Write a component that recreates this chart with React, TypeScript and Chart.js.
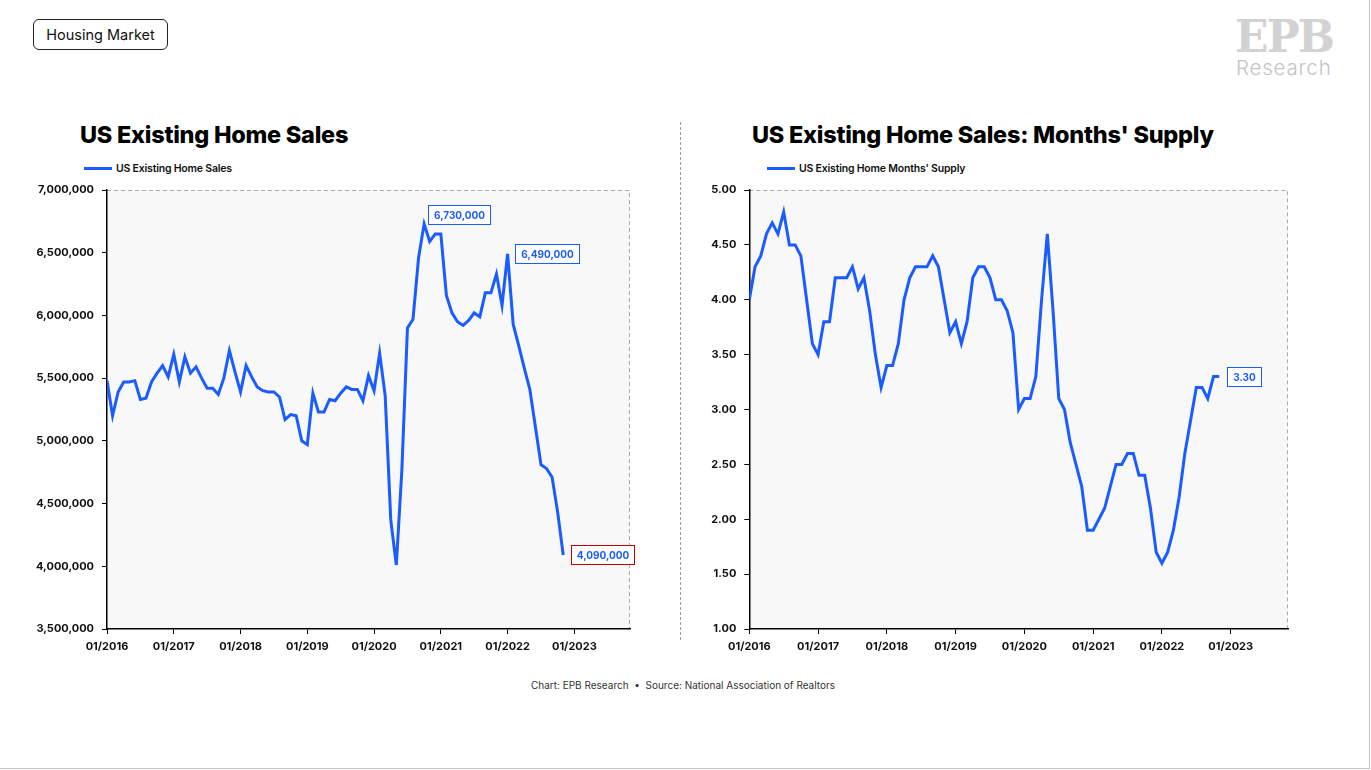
import React, { useEffect, useRef } from 'react';
import { Chart, registerables } from 'chart.js';

Chart.register(...registerables);

// ---------------- DATA ----------------
const xTickLabels = ['01/2016', '01/2017', '01/2018', '01/2019', '01/2020', '01/2021', '01/2022', '01/2023'];

// US Existing Home Sales, monthly Jan 2016 .. Nov 2022 (SAAR)
const salesValues = [
  5480000, 5200000, 5390000, 5470000, 5470000, 5480000, 5330000, 5340000, 5470000, 5540000, 5600000, 5510000,
  5690000, 5470000, 5670000, 5540000, 5590000, 5500000, 5420000, 5420000, 5370000, 5500000, 5720000, 5550000,
  5390000, 5600000, 5510000, 5430000, 5400000, 5390000, 5390000, 5350000, 5170000, 5210000, 5200000, 5000000,
  4970000, 5380000, 5230000, 5230000, 5330000, 5320000, 5380000, 5430000, 5410000, 5410000, 5320000, 5520000,
  5400000, 5700000, 5360000, 4370000, 4010000, 4770000, 5900000, 5970000, 6460000, 6730000, 6590000, 6650000,
  6650000, 6160000, 6020000, 5950000, 5920000, 5960000, 6020000, 5990000, 6180000, 6180000, 6330000, 6080000,
  6490000, 5930000, 5760000, 5580000, 5410000, 5110000, 4810000, 4780000, 4710000, 4430000, 4090000,
];

// US Existing Home Months' Supply, monthly Jan 2016 .. Nov 2022
const supplyValues = [
  4.0, 4.3, 4.4, 4.6, 4.7, 4.6, 4.8, 4.5, 4.5, 4.4, 4.0, 3.6,
  3.5, 3.8, 3.8, 4.2, 4.2, 4.2, 4.3, 4.1, 4.2, 3.9, 3.5, 3.2,
  3.4, 3.4, 3.6, 4.0, 4.2, 4.3, 4.3, 4.3, 4.4, 4.3, 4.0, 3.7,
  3.8, 3.6, 3.8, 4.2, 4.3, 4.3, 4.2, 4.0, 4.0, 3.9, 3.7, 3.0,
  3.1, 3.1, 3.3, 4.0, 4.6, 3.9, 3.1, 3.0, 2.7, 2.5, 2.3, 1.9,
  1.9, 2.0, 2.1, 2.3, 2.5, 2.5, 2.6, 2.6, 2.4, 2.4, 2.1, 1.7,
  1.6, 1.7, 1.9, 2.2, 2.6, 2.9, 3.2, 3.2, 3.1, 3.3, 3.3,
];

const salesCalloutMonths = [57, 72, 82];
const supplyCalloutMonths = [82];

// ---------------- STYLE ----------------
const BLUE = '#1a5cff';
const RED = '#c00000';
const FONT = 'Inter, "Open Sans", sans-serif';
const X_MAX_MONTHS = 94;

type Callout = { month: number; mode: 'above' | 'right'; color: string };

const framePlugin = {
  id: 'frame',
  beforeDraw(chart: any) {
    const { ctx, chartArea: a } = chart;
    ctx.save();
    ctx.fillStyle = '#f8f8f8';
    ctx.fillRect(a.left, a.top, a.right - a.left, a.bottom - a.top);
    ctx.strokeStyle = '#ababab';
    ctx.lineWidth = 1;
    ctx.setLineDash([4, 3]);
    ctx.beginPath();
    ctx.moveTo(a.left, a.top + 0.5);
    ctx.lineTo(a.right - 0.5, a.top + 0.5);
    ctx.lineTo(a.right - 0.5, a.bottom);
    ctx.stroke();
    ctx.restore();
  },
};

function makeCalloutPlugin(callouts: Callout[], fmt: (v: number) => string) {
  return {
    id: 'callouts',
    afterDatasetsDraw(chart: any) {
      const { ctx } = chart;
      const xs = chart.scales.x;
      const ys = chart.scales.y;
      const data = chart.data.datasets[0].data;
      ctx.save();
      ctx.font = `bold 10px ${FONT}`;
      for (const c of callouts) {
        const pt = data[c.month];
        const px = xs.getPixelForValue(pt.x);
        const py = ys.getPixelForValue(pt.y);
        const text = fmt(pt.y);
        const tw = ctx.measureText(text).width;
        const w = Math.round(tw + 11);
        const h = 19;
        let left: number, top: number;
        if (c.mode === 'above') {
          left = px + 3.5;
          top = py - h;
        } else {
          left = px + 7.5;
          top = py - h / 2;
        }
        left = Math.round(left) + 0.5;
        top = Math.round(top) + 0.5;
        ctx.fillStyle = '#ffffff';
        ctx.fillRect(left, top, w, h);
        ctx.strokeStyle = c.color;
        ctx.lineWidth = 1;
        ctx.strokeRect(left, top, w, h);
        ctx.fillStyle = BLUE;
        ctx.textAlign = 'center';
        ctx.textBaseline = 'middle';
        ctx.fillText(text, left + w / 2, top + h / 2 + 0.5);
      }
      ctx.restore();
    },
  };
}

type ChartProps = {
  values: number[];
  yMin: number;
  yMax: number;
  yStep: number;
  yFmt: (v: number) => string;
  yWidth: number;
  width: number;
  height: number;
  callouts: Callout[];
  label: string;
};

function LineChart(p: ChartProps) {
  const ref = useRef<HTMLCanvasElement>(null);
  useEffect(() => {
    const data = p.values.map((v, i) => ({ x: i, y: v }));
    const tickFont = { family: FONT, size: 11, weight: 'bold' as const };
    const chart = new Chart(ref.current as HTMLCanvasElement, {
      type: 'line',
      data: {
        datasets: [
          {
            label: p.label,
            data,
            borderColor: BLUE,
            backgroundColor: BLUE,
            borderWidth: 3,
            pointRadius: 0,
            tension: 0,
            fill: false,
          },
        ],
      },
      options: {
        animation: false,
        responsive: false,
        devicePixelRatio: 1,
        layout: { padding: { top: 10, right: 20, left: 0, bottom: 0 } },
        plugins: { legend: { display: false }, tooltip: { enabled: false }, title: { display: false } },
        scales: {
          x: {
            type: 'linear',
            min: 0,
            max: X_MAX_MONTHS,
            afterBuildTicks: (s: any) => {
              s.ticks = xTickLabels.map((_, i) => ({ value: i * 12 }));
            },
            afterFit: (s: any) => {
              s.height = 31;
              s.paddingLeft = 0;
              s.paddingRight = 0;
            },
            ticks: {
              callback: (v: any) => xTickLabels[Math.round(Number(v) / 12)] ?? '',
              font: tickFont,
              color: '#111',
              padding: 6,
              maxRotation: 0,
              autoSkip: false,
            },
            grid: { drawOnChartArea: false, drawTicks: true, tickLength: 5, color: '#000', lineWidth: 1 },
            border: { display: true, color: '#000', width: 1.5 },
          },
          y: {
            type: 'linear',
            min: p.yMin,
            max: p.yMax,
            afterFit: (s: any) => {
              s.width = p.yWidth;
              s.paddingTop = 0;
              s.paddingBottom = 0;
            },
            ticks: {
              stepSize: p.yStep,
              callback: (v: any) => p.yFmt(Number(v)),
              font: tickFont,
              color: '#111',
              padding: 8,
            },
            grid: { drawOnChartArea: false, drawTicks: true, tickLength: 5, color: '#000', lineWidth: 1 },
            border: { display: true, color: '#000', width: 1.5 },
          },
        },
      },
      plugins: [framePlugin, makeCalloutPlugin(p.callouts, p.yFmt)],
    } as any);
    return () => chart.destroy();
  }, []);
  return <canvas ref={ref} width={p.width} height={p.height} style={{ display: 'block' }} />;
}

const fmtSales = (v: number) => v.toLocaleString('en-US');
const fmtSupply = (v: number) => v.toFixed(2);

function Legend({ left, top, text }: { left: number; top: number; text: string }) {
  return (
    <div style={{ position: 'absolute', left, top, display: 'flex', alignItems: 'center', height: 14 }}>
      <div style={{ width: 28, height: 3, background: BLUE, marginRight: 4 }} />
      <span style={{ fontFamily: FONT, fontSize: 10.5, fontWeight: 600, color: '#111', letterSpacing: -0.2, whiteSpace: 'nowrap' }}>
        {text}
      </span>
    </div>
  );
}

export default function App() {
  const titleStyle: React.CSSProperties = {
    position: 'absolute',
    fontFamily: FONT,
    fontWeight: 800,
    fontSize: 23.5,
    lineHeight: '28px',
    color: '#000',
    whiteSpace: 'nowrap',
    letterSpacing: -0.25,
  };
  return (
    <div style={{ position: 'absolute', left: 0, top: 0, width: 1371, height: 770, background: '#fff', overflow: 'hidden' }}>
      <div
        style={{
          position: 'absolute',
          left: 0,
          top: 0,
          width: 1369,
          height: 768,
          borderRight: '1px solid #c4c4c4',
          borderBottom: '1px solid #c4c4c4',
        }}
      />
      {/* Header tag */}
      <div
        style={{
          position: 'absolute',
          left: 33,
          top: 19,
          width: 135,
          height: 31,
          border: '1px solid #222',
          borderRadius: 6,
          boxSizing: 'border-box',
          fontFamily: FONT,
          fontSize: 14.5,
          color: '#111',
          display: 'flex',
          alignItems: 'center',
          justifyContent: 'center',
        }}
      >
        Housing Market
      </div>

      {/* Logo */}
      <div
        style={{
          position: 'absolute',
          left: 1234,
          top: 14,
          width: 100,
          textAlign: 'center',
          fontFamily: '"DejaVu Serif", serif',
          fontWeight: 900,
          fontSize: 44,
          lineHeight: '46px',
          color: '#d2d2d2',
          letterSpacing: -2,
        }}
      >
        EPB
      </div>
      <div
        style={{
          position: 'absolute',
          left: 1236,
          top: 55,
          fontFamily: FONT,
          fontWeight: 300,
          fontSize: 20.5,
          lineHeight: '26px',
          color: '#c4c4c4',
          letterSpacing: 0.8,
        }}
      >
        Research
      </div>

      {/* Titles */}
      <div style={{ ...titleStyle, left: 80, top: 121 }}>US Existing Home Sales</div>
      <div style={{ ...titleStyle, left: 752, top: 121 }}>US Existing Home Sales: Months' Supply</div>

      <Legend left={84} top={161} text="US Existing Home Sales" />
      <Legend left={767} top={161} text="US Existing Home Months' Supply" />

      {/* Separator */}
      <div style={{ position: 'absolute', left: 680, top: 122, height: 518, borderLeft: '1px dashed #9a9a9a' }} />

      {/* Left chart */}
      <div style={{ position: 'absolute', left: 20, top: 180 }}>
        <LineChart
          values={salesValues}
          yMin={3500000}
          yMax={7000000}
          yStep={500000}
          yFmt={fmtSales}
          yWidth={87}
          width={630}
          height={480}
          label="US Existing Home Sales"
          callouts={[
            { month: salesCalloutMonths[0], mode: 'above', color: BLUE },
            { month: salesCalloutMonths[1], mode: 'right', color: BLUE },
            { month: salesCalloutMonths[2], mode: 'right', color: RED },
          ]}
        />
      </div>

      {/* Right chart */}
      <div style={{ position: 'absolute', left: 690, top: 180 }}>
        <LineChart
          values={supplyValues}
          yMin={1}
          yMax={5}
          yStep={0.5}
          yFmt={fmtSupply}
          yWidth={59.3}
          width={618}
          height={480}
          label="US Existing Home Months' Supply"
          callouts={[{ month: supplyCalloutMonths[0], mode: 'right', color: BLUE }]}
        />
      </div>

      {/* Footer */}
      <div
        style={{
          position: 'absolute',
          left: 0,
          width: 1366,
          top: 679,
          textAlign: 'center',
          fontFamily: FONT,
          fontSize: 10,
          color: '#333',
          whiteSpace: 'nowrap',
        }}
      >
        Chart: EPB Research&nbsp;&nbsp;•&nbsp;&nbsp;Source: National Association of Realtors
      </div>
    </div>
  );
}
